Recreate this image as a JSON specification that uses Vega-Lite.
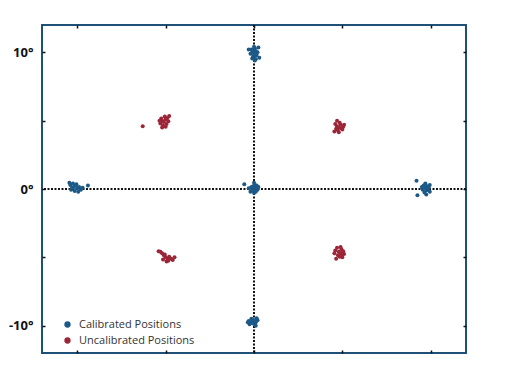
{
  "$schema": "https://vega.github.io/schema/vega-lite/v6.json",
  "width": 424,
  "height": 328,
  "autosize": "none",
  "padding": {"left": 42, "top": 25, "right": 50, "bottom": 27},
  "background": "white",
  "config": {
    "view": {"stroke": "#1f5078", "strokeWidth": 2},
    "axis": {"grid": false, "domain": false, "title": null, "tickColor": "#111", "tickWidth": 1.5, "tickSize": 3, "offset": -3}
  },
  "datasets": {
    "pts": [
      {"x": 0, "y": 9.9, "type": "Calibrated Positions"},
      {"x": 0.1, "y": 10.1, "type": "Calibrated Positions"},
      {"x": -0.1, "y": 10.0, "type": "Calibrated Positions"},
      {"x": 0.05, "y": 10.3, "type": "Calibrated Positions"},
      {"x": -0.05, "y": 9.7, "type": "Calibrated Positions"},
      {"x": 0.15, "y": 9.8, "type": "Calibrated Positions"},
      {"x": -0.15, "y": 10.2, "type": "Calibrated Positions"},
      {"x": 0.1, "y": 9.5, "type": "Calibrated Positions"},
      {"x": -0.2, "y": 9.9, "type": "Calibrated Positions"},
      {"x": 0.2, "y": 10.0, "type": "Calibrated Positions"},
      {"x": 0, "y": 10.4, "type": "Calibrated Positions"},
      {"x": -0.3, "y": 10.2, "type": "Calibrated Positions"},
      {"x": 0.3, "y": 9.6, "type": "Calibrated Positions"},
      {"x": 0.05, "y": 9.4, "type": "Calibrated Positions"},
      {"x": -0.1, "y": 9.55, "type": "Calibrated Positions"},
      {"x": 0.25, "y": 10.35, "type": "Calibrated Positions"},
      {"x": 0.1, "y": 9.75, "type": "Calibrated Positions"},
      {"x": -0.05, "y": 10.15, "type": "Calibrated Positions"},
      {"x": 0, "y": 0, "type": "Calibrated Positions"},
      {"x": 0.1, "y": 0.1, "type": "Calibrated Positions"},
      {"x": -0.1, "y": -0.1, "type": "Calibrated Positions"},
      {"x": 0.2, "y": -0.05, "type": "Calibrated Positions"},
      {"x": -0.15, "y": 0.15, "type": "Calibrated Positions"},
      {"x": 0.05, "y": 0.3, "type": "Calibrated Positions"},
      {"x": 0, "y": -0.3, "type": "Calibrated Positions"},
      {"x": 0.25, "y": 0.15, "type": "Calibrated Positions"},
      {"x": -0.2, "y": -0.2, "type": "Calibrated Positions"},
      {"x": 0.1, "y": -0.2, "type": "Calibrated Positions"},
      {"x": 0, "y": 0.45, "type": "Calibrated Positions"},
      {"x": -0.05, "y": 0.2, "type": "Calibrated Positions"},
      {"x": 0.15, "y": 0.25, "type": "Calibrated Positions"},
      {"x": -0.3, "y": 0.05, "type": "Calibrated Positions"},
      {"x": -0.55, "y": 0.35, "type": "Calibrated Positions"},
      {"x": -0.1, "y": -9.7, "type": "Calibrated Positions"},
      {"x": 0, "y": -9.6, "type": "Calibrated Positions"},
      {"x": -0.2, "y": -9.8, "type": "Calibrated Positions"},
      {"x": 0.1, "y": -9.75, "type": "Calibrated Positions"},
      {"x": -0.3, "y": -9.65, "type": "Calibrated Positions"},
      {"x": 0.05, "y": -9.9, "type": "Calibrated Positions"},
      {"x": -0.15, "y": -9.5, "type": "Calibrated Positions"},
      {"x": 0.2, "y": -9.6, "type": "Calibrated Positions"},
      {"x": -0.25, "y": -9.9, "type": "Calibrated Positions"},
      {"x": -0.05, "y": -9.85, "type": "Calibrated Positions"},
      {"x": 0.15, "y": -9.45, "type": "Calibrated Positions"},
      {"x": -0.35, "y": -9.75, "type": "Calibrated Positions"},
      {"x": 0.1, "y": -10.0, "type": "Calibrated Positions"},
      {"x": -0.1, "y": -9.55, "type": "Calibrated Positions"},
      {"x": -10.2, "y": 0.15, "type": "Calibrated Positions"},
      {"x": -10.4, "y": 0.3, "type": "Calibrated Positions"},
      {"x": -10.3, "y": 0.1, "type": "Calibrated Positions"},
      {"x": -10.1, "y": 0.25, "type": "Calibrated Positions"},
      {"x": -10.0, "y": 0.05, "type": "Calibrated Positions"},
      {"x": -9.9, "y": 0.15, "type": "Calibrated Positions"},
      {"x": -10.35, "y": -0.05, "type": "Calibrated Positions"},
      {"x": -10.15, "y": -0.15, "type": "Calibrated Positions"},
      {"x": -9.8, "y": -0.05, "type": "Calibrated Positions"},
      {"x": -10.45, "y": 0.45, "type": "Calibrated Positions"},
      {"x": -10.25, "y": 0.4, "type": "Calibrated Positions"},
      {"x": -9.95, "y": -0.2, "type": "Calibrated Positions"},
      {"x": -10.05, "y": 0.35, "type": "Calibrated Positions"},
      {"x": -9.7, "y": 0.1, "type": "Calibrated Positions"},
      {"x": -9.4, "y": 0.25, "type": "Calibrated Positions"},
      {"x": 9.7, "y": 0.1, "type": "Calibrated Positions"},
      {"x": 9.8, "y": 0.2, "type": "Calibrated Positions"},
      {"x": 9.6, "y": 0.25, "type": "Calibrated Positions"},
      {"x": 9.75, "y": -0.1, "type": "Calibrated Positions"},
      {"x": 9.65, "y": -0.25, "type": "Calibrated Positions"},
      {"x": 9.9, "y": 0.1, "type": "Calibrated Positions"},
      {"x": 9.5, "y": 0.15, "type": "Calibrated Positions"},
      {"x": 9.85, "y": -0.05, "type": "Calibrated Positions"},
      {"x": 9.7, "y": 0.4, "type": "Calibrated Positions"},
      {"x": 9.55, "y": -0.05, "type": "Calibrated Positions"},
      {"x": 9.75, "y": -0.4, "type": "Calibrated Positions"},
      {"x": 9.95, "y": 0.3, "type": "Calibrated Positions"},
      {"x": 9.2, "y": 0.6, "type": "Calibrated Positions"},
      {"x": 9.25, "y": -0.45, "type": "Calibrated Positions"},
      {"x": 9.95, "y": -0.2, "type": "Calibrated Positions"},
      {"x": -5.1, "y": 4.9, "type": "Uncalibrated Positions"},
      {"x": -5.0, "y": 5.1, "type": "Uncalibrated Positions"},
      {"x": -5.2, "y": 5.0, "type": "Uncalibrated Positions"},
      {"x": -4.95, "y": 4.75, "type": "Uncalibrated Positions"},
      {"x": -5.3, "y": 4.8, "type": "Uncalibrated Positions"},
      {"x": -5.05, "y": 5.3, "type": "Uncalibrated Positions"},
      {"x": -4.9, "y": 5.2, "type": "Uncalibrated Positions"},
      {"x": -5.25, "y": 5.15, "type": "Uncalibrated Positions"},
      {"x": -5.15, "y": 4.65, "type": "Uncalibrated Positions"},
      {"x": -4.85, "y": 4.95, "type": "Uncalibrated Positions"},
      {"x": -5.35, "y": 5.0, "type": "Uncalibrated Positions"},
      {"x": -5.0, "y": 4.55, "type": "Uncalibrated Positions"},
      {"x": -4.8, "y": 5.35, "type": "Uncalibrated Positions"},
      {"x": -5.2, "y": 4.5, "type": "Uncalibrated Positions"},
      {"x": -6.3, "y": 4.6, "type": "Uncalibrated Positions"},
      {"x": 4.8, "y": 4.5, "type": "Uncalibrated Positions"},
      {"x": 4.7, "y": 4.6, "type": "Uncalibrated Positions"},
      {"x": 4.9, "y": 4.7, "type": "Uncalibrated Positions"},
      {"x": 4.75, "y": 4.3, "type": "Uncalibrated Positions"},
      {"x": 4.95, "y": 4.45, "type": "Uncalibrated Positions"},
      {"x": 4.65, "y": 4.4, "type": "Uncalibrated Positions"},
      {"x": 4.85, "y": 4.85, "type": "Uncalibrated Positions"},
      {"x": 5.05, "y": 4.55, "type": "Uncalibrated Positions"},
      {"x": 4.6, "y": 4.75, "type": "Uncalibrated Positions"},
      {"x": 4.8, "y": 4.15, "type": "Uncalibrated Positions"},
      {"x": 5.0, "y": 4.35, "type": "Uncalibrated Positions"},
      {"x": 4.7, "y": 5.0, "type": "Uncalibrated Positions"},
      {"x": 4.55, "y": 4.2, "type": "Uncalibrated Positions"},
      {"x": 5.1, "y": 4.7, "type": "Uncalibrated Positions"},
      {"x": -5.0, "y": -5.0, "type": "Uncalibrated Positions"},
      {"x": -5.1, "y": -4.85, "type": "Uncalibrated Positions"},
      {"x": -4.9, "y": -5.1, "type": "Uncalibrated Positions"},
      {"x": -5.2, "y": -4.7, "type": "Uncalibrated Positions"},
      {"x": -5.3, "y": -4.6, "type": "Uncalibrated Positions"},
      {"x": -4.95, "y": -5.3, "type": "Uncalibrated Positions"},
      {"x": -4.8, "y": -4.95, "type": "Uncalibrated Positions"},
      {"x": -5.15, "y": -5.15, "type": "Uncalibrated Positions"},
      {"x": -4.7, "y": -5.1, "type": "Uncalibrated Positions"},
      {"x": -4.5, "y": -5.0, "type": "Uncalibrated Positions"},
      {"x": -5.05, "y": -4.8, "type": "Uncalibrated Positions"},
      {"x": -5.4, "y": -4.55, "type": "Uncalibrated Positions"},
      {"x": -4.85, "y": -5.25, "type": "Uncalibrated Positions"},
      {"x": -4.6, "y": -5.2, "type": "Uncalibrated Positions"},
      {"x": 4.9, "y": -4.7, "type": "Uncalibrated Positions"},
      {"x": 4.8, "y": -4.6, "type": "Uncalibrated Positions"},
      {"x": 5.0, "y": -4.8, "type": "Uncalibrated Positions"},
      {"x": 4.75, "y": -4.85, "type": "Uncalibrated Positions"},
      {"x": 5.05, "y": -4.55, "type": "Uncalibrated Positions"},
      {"x": 4.85, "y": -4.95, "type": "Uncalibrated Positions"},
      {"x": 4.95, "y": -4.4, "type": "Uncalibrated Positions"},
      {"x": 4.6, "y": -4.5, "type": "Uncalibrated Positions"},
      {"x": 5.1, "y": -4.75, "type": "Uncalibrated Positions"},
      {"x": 4.7, "y": -4.3, "type": "Uncalibrated Positions"},
      {"x": 4.65, "y": -5.1, "type": "Uncalibrated Positions"},
      {"x": 5.0, "y": -5.0, "type": "Uncalibrated Positions"},
      {"x": 4.55, "y": -4.7, "type": "Uncalibrated Positions"},
      {"x": 4.9, "y": -4.25, "type": "Uncalibrated Positions"}
    ]
  },
  "layer": [
    {
      "data": {"values": [{"v": 0}]},
      "mark": {"type": "rule", "color": "#111", "strokeWidth": 2, "strokeDash": [2, 1.5]},
      "encoding": {"x": {"field": "v", "type": "quantitative", "axis": null}}
    },
    {
      "data": {"values": [{"v": 0}]},
      "mark": {"type": "rule", "color": "#111", "strokeWidth": 2, "strokeDash": [2, 1.5]},
      "encoding": {"y": {"field": "v", "type": "quantitative", "axis": null}}
    },
    {
      "data": {"name": "pts"},
      "mark": {"type": "point", "opacity": 0},
      "encoding": {
        "x": {"field": "x", "type": "quantitative", "scale": {"domain": [-12, 12], "nice": false},
              "axis": {"orient": "top", "values": [-10, -5, 0, 5, 10], "labels": false}},
        "y": {"field": "y", "type": "quantitative", "scale": {"domain": [-12, 12], "nice": false},
              "axis": {"orient": "right", "values": [-10, -5, 0, 5, 10], "labels": false}}
      }
    },
    {
      "data": {"name": "pts"},
      "mark": {"type": "circle", "size": 16, "opacity": 1},
      "encoding": {
        "x": {"field": "x", "type": "quantitative", "scale": {"domain": [-12, 12], "nice": false},
              "axis": {"orient": "bottom", "values": [-10, -5, 0, 5, 10], "labels": false}},
        "y": {"field": "y", "type": "quantitative", "scale": {"domain": [-12, 12], "nice": false},
              "axis": {"orient": "left", "values": [-10, -5, 0, 5, 10], "labelPadding": 9,
                       "labelExpr": "datum.value % 10 == 0 ? datum.value + '°' : ''",
                       "labelFont": "Open Sans", "labelFontWeight": "bold", "labelFontSize": 13, "labelColor": "#111"}},
        "color": {"field": "type", "type": "nominal",
                  "scale": {"domain": ["Calibrated Positions", "Uncalibrated Positions"], "range": ["#1c5987", "#9c2637"]},
                  "legend": {"title": null, "orient": "none", "legendX": 20, "legendY": 294, "symbolType": "circle",
                             "symbolSize": 40, "labelFont": "Open Sans", "labelFontSize": 11, "labelColor": "#333",
                             "rowPadding": 4, "labelOffset": 6, "labelFontWeight": 500}}
      }
    }
  ],
  "resolve": {"axis": {"x": "independent", "y": "independent"}}
}
